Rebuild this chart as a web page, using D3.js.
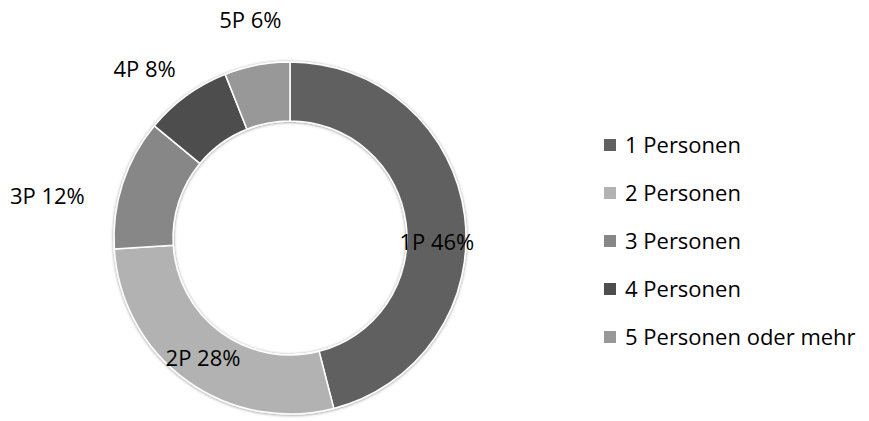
<!DOCTYPE html>
<html>
<head>
<meta charset="utf-8">
<script src="https://cdn.jsdelivr.net/npm/d3@7/dist/d3.min.js"></script>
<style>
  html, body { margin: 0; padding: 0; background: #fff; }
  svg { display: block; font-family: "Open Sans", Lato, sans-serif; }
</style>
</head>
<body>
<svg id="chart" width="869" height="421"></svg>
<script>
// Household sizes (share of households, %)
const categories = ["1 Personen", "2 Personen", "3 Personen", "4 Personen", "5 Personen oder mehr"];
const shortLabels = ["1P", "2P", "3P", "4P", "5P"];
const values = [46, 28, 12, 8, 6];
const colors = ["#616161", "#b2b2b2", "#878787", "#4e4e4e", "#989898"];

const W = 869, H = 421;
const cx = 290, cy = 238;
const outerR = 176, innerR = 117;

const svg = d3.select("#chart");

const defs = svg.append("defs");
const glow = defs.append("filter").attr("id", "ringShadow")
  .attr("x", "-10%").attr("y", "-10%").attr("width", "120%").attr("height", "120%");
glow.append("feDropShadow")
  .attr("dx", 0).attr("dy", 0.5).attr("stdDeviation", 1.6)
  .attr("flood-color", "#000").attr("flood-opacity", 0.45);

const pie = d3.pie().sort(null).value(d => d);
const arcs = pie(values);
const arc = d3.arc().innerRadius(innerR).outerRadius(outerR);

const g = svg.append("g").attr("transform", `translate(${cx},${cy})`);

g.append("g").attr("filter", "url(#ringShadow)")
  .selectAll("path")
  .data(arcs)
  .join("path")
  .attr("d", arc)
  .attr("fill", (d, i) => colors[i])
  .attr("stroke", "#fff")
  .attr("stroke-width", 1.5)
  .attr("stroke-linejoin", "round");

// Data labels: large slices inside the ring, small ones outside it
const fontSize = 22;
const capH = fontSize * 0.714;
const labelRadius = d => (d.data >= 20 ? 148 : (d.data >= 10 ? 232 : 222));
const labelNudge = [[0, 23], [0, 0], [-22, 30], [-15, 11], [2, 0]];

g.append("g").selectAll("text")
  .data(arcs)
  .join("text")
  .attr("x", (d, i) => {
    const a = (d.startAngle + d.endAngle) / 2;
    return Math.sin(a) * labelRadius(d) + labelNudge[i][0];
  })
  .attr("y", (d, i) => {
    const a = (d.startAngle + d.endAngle) / 2;
    return -Math.cos(a) * labelRadius(d) + labelNudge[i][1] + capH / 2;
  })
  .attr("text-anchor", "middle")
  .attr("font-size", fontSize)
  .attr("fill", "#000")
  .text((d, i) => `${shortLabels[i]} ${d.data}%`);

// Legend
const legendY = d3.scalePoint().domain(categories).range([145, 337]);
const legend = svg.append("g").attr("transform", "translate(604,0)");
const items = legend.selectAll("g").data(categories).join("g")
  .attr("transform", d => `translate(0,${legendY(d)})`);
items.append("rect")
  .attr("x", 0).attr("y", -6).attr("width", 12).attr("height", 12)
  .attr("fill", (d, i) => colors[i]);
items.append("text")
  .attr("x", 21).attr("y", capH / 2)
  .attr("font-size", fontSize)
  .attr("fill", "#000")
  .text(d => d);
</script>
</body>
</html>
